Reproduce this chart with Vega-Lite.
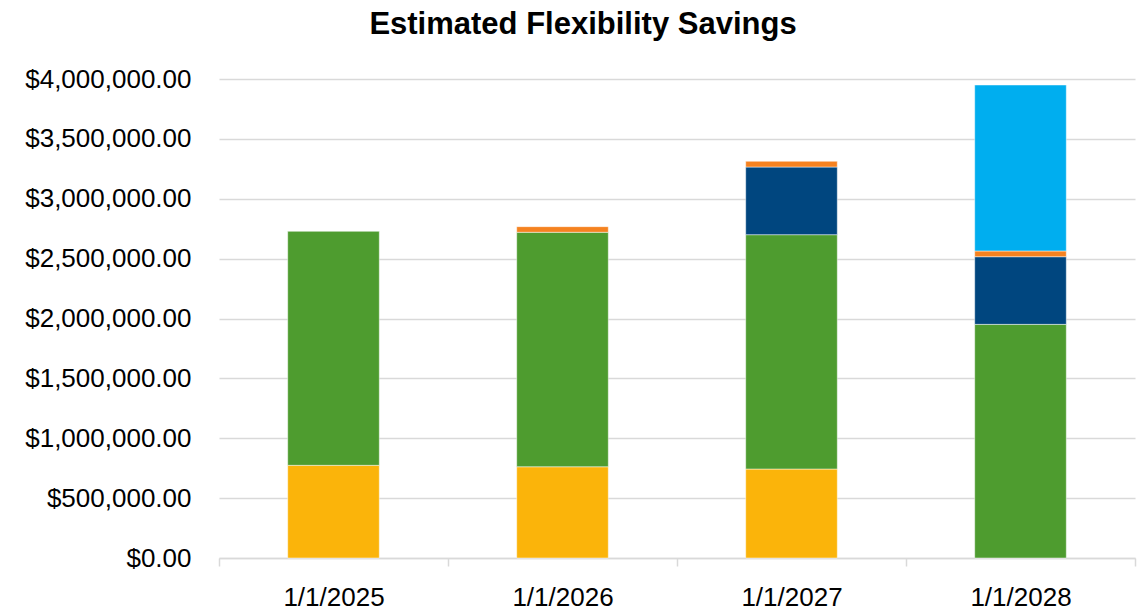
{
  "$schema": "https://vega.github.io/schema/vega-lite/v6.json",
  "width": 916,
  "height": 479,
  "autosize": {"type": "none"},
  "padding": {"left": 219, "top": 79, "right": 6, "bottom": 55},
  "background": "#ffffff",
  "title": {
    "text": "Estimated Flexibility Savings",
    "font": "Liberation Sans",
    "fontSize": 31,
    "fontWeight": "bold",
    "color": "#000000",
    "anchor": "middle",
    "frame": "group",
    "dx": -94,
    "baseline": "alphabetic",
    "offset": 1
  },
  "config": {
    "view": {"stroke": null},
    "font": "Liberation Sans"
  },
  "data": {
    "values": [
      {"date": "1/1/2025", "series": "Series 1", "order": 1, "value": 774000},
      {"date": "1/1/2025", "series": "Series 2", "order": 2, "value": 1954000},
      {"date": "1/1/2026", "series": "Series 1", "order": 1, "value": 762000},
      {"date": "1/1/2026", "series": "Series 2", "order": 2, "value": 1958000},
      {"date": "1/1/2026", "series": "Series 4", "order": 4, "value": 47000},
      {"date": "1/1/2027", "series": "Series 1", "order": 1, "value": 743000},
      {"date": "1/1/2027", "series": "Series 2", "order": 2, "value": 1957000},
      {"date": "1/1/2027", "series": "Series 3", "order": 3, "value": 565000},
      {"date": "1/1/2027", "series": "Series 4", "order": 4, "value": 48000},
      {"date": "1/1/2028", "series": "Series 2", "order": 2, "value": 1951000},
      {"date": "1/1/2028", "series": "Series 3", "order": 3, "value": 565000},
      {"date": "1/1/2028", "series": "Series 4", "order": 4, "value": 48000},
      {"date": "1/1/2028", "series": "Series 5", "order": 5, "value": 1386000}
    ]
  },
  "mark": {"type": "bar", "width": {"band": 0.4}, "stroke": "#ffffff", "strokeWidth": 0.6, "strokeOpacity": 0.8},
  "encoding": {
    "x": {
      "field": "date",
      "type": "nominal",
      "sort": null,
      "scale": {"paddingInner": 0, "paddingOuter": 0},
      "axis": {
        "title": null,
        "labelAngle": 0,
        "labelFont": "Liberation Sans",
        "labelFontSize": 26,
        "labelColor": "#000000",
        "labelPadding": 18,
        "tickBand": "extent",
        "ticks": true,
        "tickSize": 8,
        "tickColor": "#D9D9D9",
        "tickWidth": 1.5,
        "domainColor": "#D9D9D9",
        "domainWidth": 1.5,
        "grid": false
      }
    },
    "y": {
      "field": "value",
      "type": "quantitative",
      "stack": "zero",
      "scale": {"domain": [0, 4000000], "nice": false},
      "axis": {
        "title": null,
        "values": [0, 500000, 1000000, 1500000, 2000000, 2500000, 3000000, 3500000, 4000000],
        "format": "$,.2f",
        "labelFont": "Liberation Sans",
        "labelFontSize": 26,
        "labelColor": "#000000",
        "labelPadding": 28,
        "ticks": false,
        "domain": false,
        "grid": true,
        "gridColor": "#D9D9D9",
        "gridWidth": 1.5
      }
    },
    "color": {
      "field": "series",
      "type": "nominal",
      "scale": {
        "domain": ["Series 1", "Series 2", "Series 3", "Series 4", "Series 5"],
        "range": ["#FBB40A", "#4E9C2F", "#00467F", "#F58220", "#00AEEF"]
      },
      "legend": null
    },
    "order": {"field": "order", "type": "quantitative"}
  }
}
